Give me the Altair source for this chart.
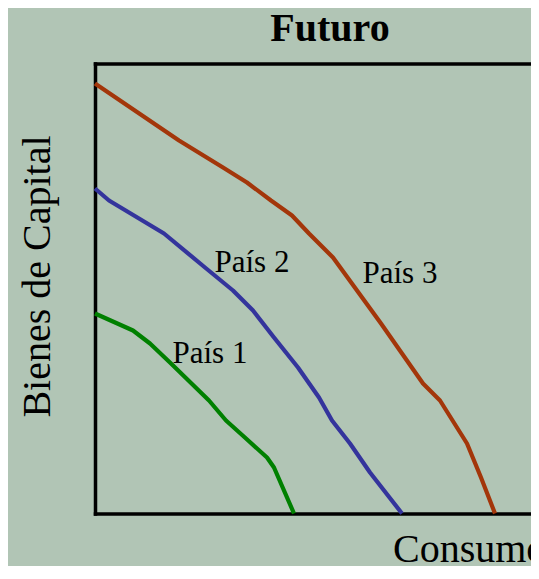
import altair as alt
import pandas as pd

# Curve data (abstract units: Consumo on x, Bienes de Capital on y)
pais1_x = [0, 38, 55, 76, 114, 131, 151, 172, 179, 199]
pais1_y = [200, 183, 170, 150, 113, 93, 75, 56, 46, 0]

pais2_x = [0, 14, 69, 110, 138, 158, 179, 203, 224, 237, 255, 275, 307]
pais2_y = [325, 313, 280, 246, 223, 203, 176, 146, 116, 93, 70, 41, 0]

pais3_x = [0, 84, 128, 152, 176, 197, 214, 238, 262, 286, 307, 328, 345, 372, 386, 400]
pais3_y = [430, 373, 346, 331, 313, 298, 280, 256, 223, 190, 160, 130, 113, 70, 36, 0]

series_names = ["País 1", "País 2", "País 3"]
series_colors = ["#008000", "#34349c", "#a3360a"]

label_text = ["País 1", "País 2", "País 3"]
label_x = [77.5, 119.5, 267.5]
label_y = [150.5, 241.5, 230.5]

rows = []
for name, xs, ys in zip(series_names, [pais1_x, pais2_x, pais3_x], [pais1_y, pais2_y, pais3_y]):
    for i, (xv, yv) in enumerate(zip(xs, ys)):
        rows.append({"serie": name, "orden": i, "consumo": xv, "capital": yv})
df = pd.DataFrame(rows)
labels = pd.DataFrame({"texto": label_text, "consumo": label_x, "capital": label_y})

W, H = 436, 450
FONT = "Liberation Serif"

xscale = alt.Scale(domain=[0, W], nice=False, zero=False)
yscale = alt.Scale(domain=[0, H], nice=False, zero=False)

common = dict(
    ticks=False, labels=False, grid=False,
    domainColor="black", domainWidth=3.5, domainCap="square",
    titleFont=FONT, titleFontSize=40, titleColor="black",
)

xaxis = alt.Axis(
    title="Consumo", orient="bottom", titleFontWeight="normal",
    titleX=297.5, titleY=48, titleAlign="left", titleBaseline="alphabetic", titleAngle=0,
    **common,
)
topaxis = alt.Axis(
    title="Futuro", orient="top", titleFontWeight="bold",
    titleX=234.5, titleY=-23.5, titleAlign="center", titleBaseline="alphabetic", titleAngle=0,
    **common,
)
yaxis = alt.Axis(
    title="Bienes de Capital", orient="left", titleFontWeight="normal",
    titleX=-45.5, titleY=212.5, titleAlign="center", titleBaseline="alphabetic", titleAngle=270,
    **common,
)

lines = alt.Chart(df).mark_line(strokeWidth=4.2, strokeCap="butt", strokeJoin="round").encode(
    x=alt.X("consumo:Q", scale=xscale, axis=xaxis),
    y=alt.Y("capital:Q", scale=yscale, axis=yaxis),
    color=alt.Color("serie:N", scale=alt.Scale(domain=series_names, range=series_colors), legend=None),
    order="orden:O",
    detail="serie:N",
)

text = alt.Chart(labels).mark_text(
    font=FONT, fontSize=31, align="left", baseline="alphabetic", color="black"
).encode(
    x=alt.X("consumo:Q", scale=xscale, axis=topaxis),
    y=alt.Y("capital:Q", scale=yscale, axis=yaxis),
    text="texto:N",
)

chart = alt.layer(lines, text).resolve_axis(x="independent").properties(
    width=W, height=H,
    background="#b1c5b5",
    padding={"left": 87, "top": 55.5, "right": 0, "bottom": 52},
    autosize=alt.AutoSizeParams(type="none"),
).configure_view(stroke=None)

chart.save("out.html", embed_options={"renderer": "svg", "actions": False})
